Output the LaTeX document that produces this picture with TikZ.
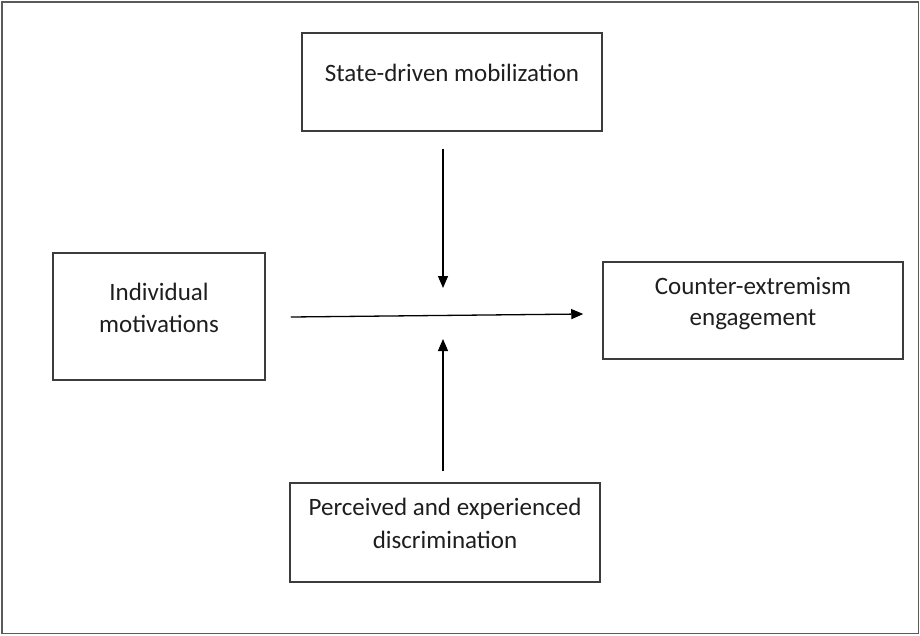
\documentclass[tikz,border=0pt]{standalone}
\usepackage{fontspec}
\setmainfont{Carlito}
\usetikzlibrary{arrows.meta,calc}
\definecolor{boxline}{HTML}{3C3C3C}
\definecolor{frameline}{HTML}{5A5A5A}
\definecolor{txtcol}{HTML}{1E1E1E}
\tikzset{
  box/.style={draw=boxline, line width=1.5pt, inner sep=0pt},
  lbl/.style={text=txtcol, inner sep=0pt, font=\fontsize{25}{32}\selectfont},
  arr/.style={draw=black, line width=1.3pt, -{Triangle[length=12pt,width=10pt]}},
}
\begin{document}
\begin{tikzpicture}[x=1pt,y=-1pt]
\useasboundingbox (0,0) rectangle (920,635);
\draw[frameline, line width=1.4pt] (2,2) rectangle (918.5,633.5);

% boxes
\node[box, minimum width=300pt, minimum height=98pt] (state) at (452,82) {};
\node[box, minimum width=212pt, minimum height=127pt] (ind) at (159,316.5) {};
\node[box, minimum width=300pt, minimum height=97pt] (cnt) at (753,310.5) {};
\node[box, minimum width=310pt, minimum height=99pt] (disc) at (445,532.5) {};

% texts
\node[lbl, anchor=base] (statet) at (452,81) {State-driven mobilization};
\node[lbl, anchor=base] (indt1) at (159,300) {Individual};
\node[lbl, anchor=base] (indt2) at (159,332) {motivations};
\node[lbl, anchor=base] (cntt1) at (753,294) {Counter-extremism};
\node[lbl, anchor=base] (cntt2) at (753,325) {engagement};
\node[lbl, anchor=base] (disct1) at (445,515) {Perceived and experienced};
\node[lbl, anchor=base] (disct2) at (445,548) {discrimination};

% free ends of the moderating arrows
\coordinate (tipd) at (443,288);
\coordinate (tipu) at (443,339);

\draw[arr] ($(state.south -| tipd)+(0,17)$) -- (tipd);
\draw[arr] ($(disc.north -| tipu)+(0,-11)$) -- (tipu);
\draw[arr] ($(ind.east)+(25,0.5)$) -- ($(cnt.west)+(-19,3.5)$);
\end{tikzpicture}
\end{document}
